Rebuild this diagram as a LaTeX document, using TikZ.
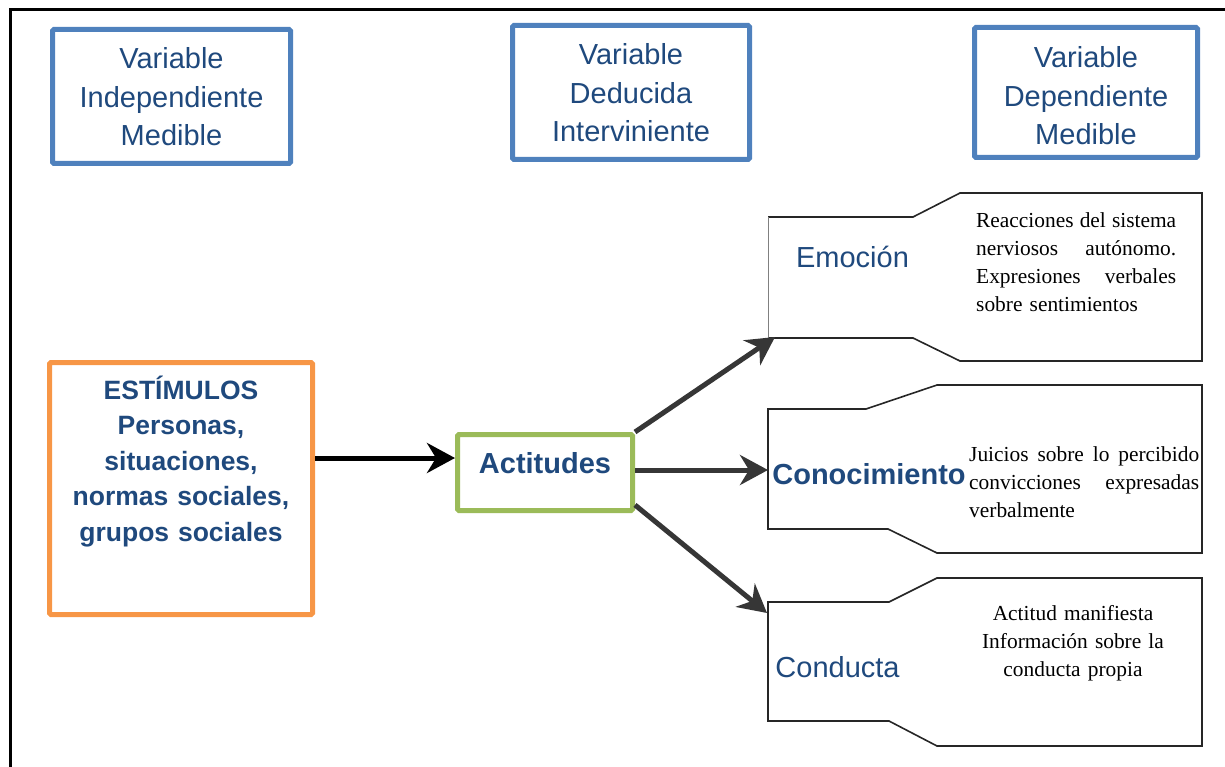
\documentclass[tikz,border=0pt]{standalone}
\usepackage{fontspec}
\setmainfont{Liberation Serif}
\newfontfamily\arialf{Liberation Sans}
\usetikzlibrary{arrows.meta,calc}
\definecolor{boxblue}{HTML}{4F81BD}
\definecolor{txtblue}{HTML}{1F497D}
\definecolor{boxorange}{HTML}{F79646}
\definecolor{boxgreen}{HTML}{9BBB59}
\definecolor{arrgray}{HTML}{363636}
\definecolor{outl}{HTML}{262626}
\newcommand\jline[2]{\leavevmode\hbox to #1{#2}}
\begin{document}
\begin{tikzpicture}[x=1pt,y=-1pt,
  thickbox/.style={line width=5pt,rounded corners=1.5pt,inner sep=0pt,rectangle},
  varbox/.style={thickbox,draw=boxblue},
  vartext/.style={text=txtblue,font=\arialf\fontsize{29}{38.5}\selectfont,align=center,text width=240pt,anchor=base,inner sep=0pt},
  stimtext/.style={text=txtblue,font=\arialf\bfseries\fontsize{26.5}{35.5}\selectfont,align=center,text width=260pt,anchor=base,inner sep=0pt},
  lbl/.style={text=txtblue,font=\arialf\fontsize{29}{35}\selectfont,anchor=base,inner sep=0pt},
  lblb/.style={lbl,font=\arialf\bfseries\fontsize{29}{35}\selectfont},
  desc/.style={font=\fontsize{21.4}{28}\selectfont,inner sep=0pt,align=left},
  callout/.style={draw=outl,line width=1.6pt,line join=miter},
  bigarrow/.style={line width=5pt,-{Stealth[length=28pt,width=30pt,inset=9pt]}},
]
\useasboundingbox (0,0) rectangle (1225,767);
% frame
\draw[line width=3pt] (1225,10) -- (10,10) -- (10,767);

% top variable boxes
\node[varbox,minimum width=238pt,minimum height=134pt] (vind) at (171.5,96.5) {};
\node[vartext] (vindt) at (171.5,69) {Variable\\Independiente\\Medible};
\node[varbox,minimum width=237pt,minimum height=134pt] (vded) at (631,92.5) {};
\node[vartext] (vdedt) at (631,65) {Variable\\Deducida\\Interviniente};
\node[varbox,minimum width=223pt,minimum height=130pt] (vdep) at (1086,92.5) {};
\node[vartext] (vdept) at (1086,68) {Variable\\Dependiente\\Medible};

% stimulus box
\node[thickbox,draw=boxorange,minimum width=263pt,minimum height=252pt] (stim) at (181,488.5) {};
\node[stimtext] (stimt) at (181,399) {ESTÍMULOS\\Personas,\\situaciones,\\normas sociales,\\grupos sociales};

% attitudes box
\node[thickbox,draw=boxgreen,minimum width=175pt,minimum height=76pt] (act) at (545,472.5) {};
\node[lblb] (actt) at (545,473) {Actitudes};

% callout shapes
\draw[callout] (768,338) -- (913,338) -- (960,361) -- (1202,361) -- (1202,193) -- (960,193) -- (913,217) -- (768,217);
\draw[draw=gray,line width=1pt] (768,217) -- (768,338);
\draw[callout] (768,409) -- (866,409) -- (937,385) -- (1202,385) -- (1202,553) -- (937,553) -- (888,529) -- (768,529) -- cycle;
\draw[callout] (768,602) -- (889,602) -- (937,578) -- (1202,578) -- (1202,746) -- (937,746) -- (889,721) -- (768,721) -- cycle;

\coordinate (emoIn) at (775,337);
\coordinate (conIn) at (768,470);
\coordinate (condIn) at (767,613);

% labels
\node[lbl] (emo) at (852.5,268) {Emoción};
\node[lblb] (con) at (869,484) {Conocimiento};
\node[lbl] (cond) at (837.5,677) {Conducta};

% descriptions
\node[desc,text width=202pt,anchor=base west] (emod) at (976,228)
  {\jline{200pt}{Reacciones\hfill del\hfill sistema}\\
   \jline{200pt}{nerviosos\hfill autónomo.}\\
   \jline{200pt}{Expresiones\hfill verbales}\\
   sobre sentimientos};
\node[desc,text width=232pt,anchor=base west] (cond) at (969,461)
  {\jline{230pt}{Juicios\hfill sobre\hfill lo\hfill percibido}\\
   \jline{230pt}{convicciones\hfill expresadas}\\
   verbalmente};
\node[desc,align=center,text width=230pt,anchor=base] (condd) at (1073,620)
  {Actitud manifiesta\\Información sobre la\\conducta propia};

% arrows
\draw[bigarrow,black] ([yshift=30.5pt]stim.east) -- ([yshift=14.5pt]act.west);
\draw[bigarrow,arrgray] (act.north east) -- (emoIn);
\draw[bigarrow,arrgray] ([yshift=2.5pt]act.east) -- (conIn);
\draw[bigarrow,arrgray] ([yshift=8pt]act.south east) -- (condIn);
\end{tikzpicture}
\end{document}
